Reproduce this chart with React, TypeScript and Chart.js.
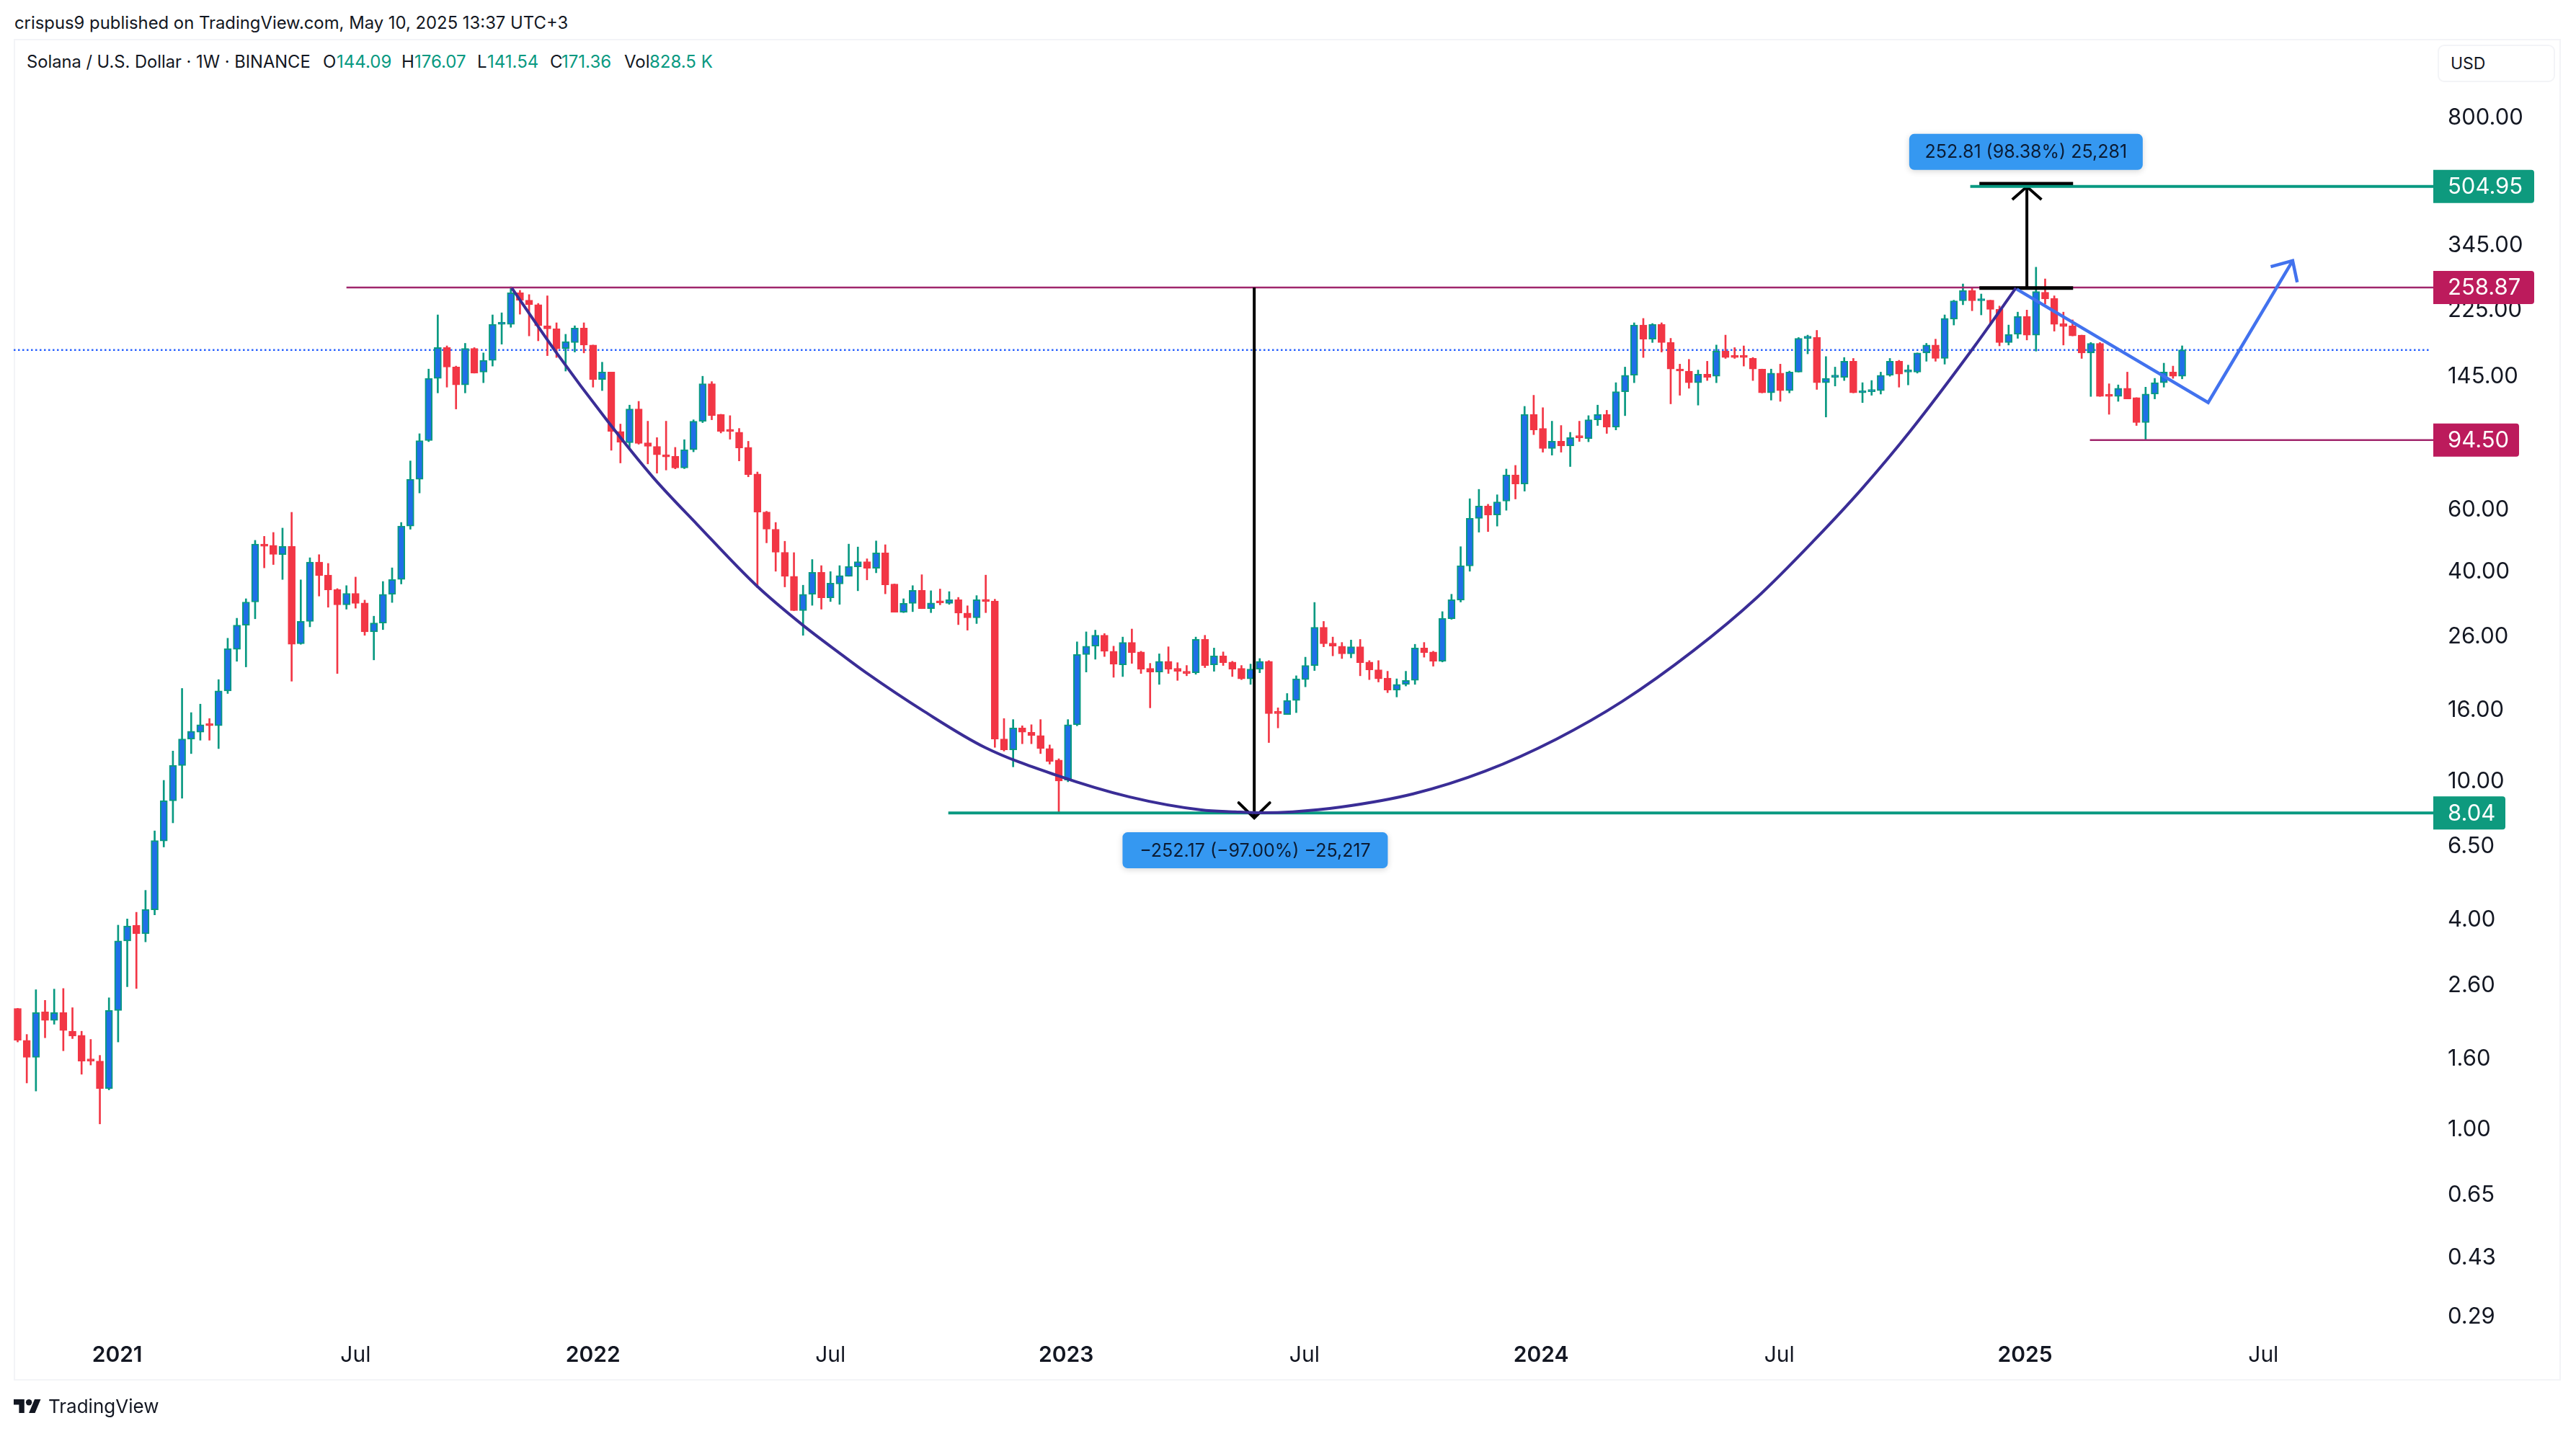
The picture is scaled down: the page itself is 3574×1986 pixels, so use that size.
// Solana weekly chart with the cup drawn over it
import React, { useRef, useEffect } from 'react';
import Chart from 'chart.js/auto';

const opens = [
  2.21,1.79,1.60,2.16,2.04,2.15,1.90,1.85,1.57,1.56,
  1.30,2.18,3.45,3.83,3.62,4.24,6.68,8.71,11.0,13.1,
  13.7,14.4,14.3,18.0,23.7,27.8,32.4,47.5,47.1,44.3,
  46.8,24.6,28.5,42.2,38.7,35.2,31.8,34.3,32.2,26.6,
  28.2,34.1,37.6,53.5,72.9,94.1,142,174,153,136,
  173,148,160,203,203,250,238,231,201,197,
  173,180,198,177,141,148,100,92.8,116,92.8,
  90.6,85.7,84.8,78.6,88.6,107,137,112,101,99.5,
  90,75.5,58.7,52.4,45.0,38.4,30.6,34.1,39.4,33.3,
  36.5,38.4,40.9,42.3,40.5,44.8,36.5,30.3,32.1,35.0,
  31.0,32.4,32.1,32.9,30.1,29.2,32.9,32.6,13.1,12.2,
  14.1,13.7,13.4,12.3,11.4,9.99,14.4,22.9,24.2,26.0,
  23.4,21.4,24.8,23.3,20.9,20.4,21.9,20.9,20.5,20.3,
  25.3,21.4,22.7,21.8,20.9,19.5,20.8,21.9,15.6,15.4,
  16.9,19.4,21.3,27.4,24.7,24.2,23.0,24.1,21.8,20.7,
  19.6,18.1,18.8,19.3,23.9,23.3,21.9,29.0,32.8,41.1,
  56.3,61.1,57.6,63.1,75.0,70.7,112,102,89.3,93.8,
  90.9,96.5,95.4,108,112,103,130,145,202,184,
  203,180,151,149,138,146,144,170,164,164,
  162,151,129,147,131,148,185,186,138,143,
  143,159,129,130,131,145,159,148,148,168,
  177,162,210,237,254,237,238,224,180,190,
  214,189,251,241,204,201,189,168,179,127,
  126,133,125,106,128,138,148,144.09,
];
const highs = [
  2.21,1.86,2.50,2.33,2.51,2.52,2.22,1.90,1.80,1.62,
  2.37,3.83,3.99,4.17,4.82,7.14,9.97,12.1,18.3,15.6,
  16.5,15.0,19.4,25.5,29.1,33.1,48.7,50.0,51.3,52.8,
  58.6,37.5,43.4,44.3,41.8,35.4,36.1,38.2,32.8,29.5,
  37.1,40.6,54.8,82.3,98.5,151,216,176,154,179,
  174,168,216,219,260,254,247,233,245,205,
  190,201,205,177,158,148,105,119,122,107,
  96.0,107,90.0,94.7,108,144,139,112,111,102,
  93.7,76.5,59,54.8,48.4,44.9,36.2,42.9,41.2,39.6,
  41.2,47.5,46.6,43.1,48.5,47.3,36.5,33.1,36.1,38.8,
  34.9,35.3,34.7,33.4,31.6,33.8,38.7,33.0,15.0,14.9,
  14.3,14.4,14.9,12.6,11.5,14.9,24.9,26.6,26.9,26.3,
  24.2,25.7,27.1,23.4,21.6,23.0,24.1,21.7,21.3,25.7,
  26.0,23.9,23.3,21.9,21.3,21.5,22.3,22.0,16.1,17.7,
  19.9,22.5,32.3,28.5,25.7,24.8,25.2,25.3,22.0,22.0,
  20.5,19.5,20.5,24.5,24.8,23.4,30.4,34.1,46.7,64.1,
  68.2,61.8,65.8,78.0,79.9,118,127,117,107,104,
  99.4,107,111,119,115,138,153,205,211,204,
  205,185,156,161,150,159,177,189,174,176,
  163,151,151,156,149,186,189,195,164,153,
  163,162,138,140,148,162,160,155,168,179,
  184,216,238,265,258,248,238,229,202,220,
  223,296,274,245,220,209,189,180,180,137,
  136,148,125,134,142,157,154,176.07,
];
const lows = [
  1.77,1.35,1.28,1.82,1.99,1.67,1.81,1.43,1.52,1.03,
  1.29,1.77,2.55,2.52,3.43,4.10,6.42,7.53,8.86,11.9,
  13.0,13.0,12.3,17.7,21.9,21.1,29.0,40.6,41.5,37.6,
  19.2,24.5,27.5,33.7,31.3,20.2,30.9,31.1,26.0,22.1,
  27.0,32.3,36.5,52.4,66.6,93.5,129,134,116,129,
  147,138,154,178,199,217,188,182,165,163,
  149,169,168,134,131,88.3,81.2,90.0,91.9,80.7,
  75.9,77.5,78.1,78.2,87.4,106,108,99,95,82.3,
  74.1,35.6,47.9,39.7,35.8,30.6,26.0,31.7,30.9,32.5,
  31.9,38.4,34.9,37.5,39.3,34.2,30.3,30.2,30.4,31.0,
  30.2,31.8,31.9,27.9,26.9,28.1,30.2,12.4,12.1,10.9,
  12.7,12.7,11.9,11.1,8.0,9.88,14.3,20.4,22.2,22.6,
  19.7,19.8,21.6,20.2,16.1,18.8,20.2,19.3,19.9,20.1,
  21.0,20.5,21.3,19.8,19.4,18.8,20.3,12.8,14.1,15.4,
  15.6,18.5,20.6,24.1,22.7,22.3,22.4,19.9,19.4,19.1,
  17.8,17.3,18.6,18.8,22.5,21.2,21.8,28.9,32.4,39.7,
  51.4,51.6,53.5,59.4,64.0,67.4,97.9,87.2,85.5,87.2,
  79.3,93.6,93.4,104,98.7,101,111,138,163,180,
  169,120,127,133,119,140,138,162,162,154,
  140,129,123,122,129,148,167,132,110,135,
  140,129,121,127,128,144,134,136,147,159,
  159,156,202,231,222,216,204,176,177,185,
  183,170,232,194,177,188,162,126,126,112,
  122,124,104,95,124,134,142,141.54,
];
const closes = [
  1.79,1.60,2.15,2.04,2.15,1.91,1.84,1.56,1.56,1.30,
  2.18,3.45,3.81,3.62,4.25,6.70,8.71,11.0,13.1,13.8,
  14.4,14.3,18.0,23.8,27.8,32.4,47.5,46.8,44.4,46.8,
  24.5,28.5,42.2,38.6,35.1,31.8,34.3,32.1,26.6,28.2,
  34.1,37.6,53.5,72.9,94.1,142,174,153,136,173,
  147,160,203,204,250,238,231,201,197,173,
  181,198,177,141,148,100,93.2,116,92.4,90.6,
  85.7,84.5,78.6,88.6,107,137,111,100,100,89.7,
  75.2,58.7,52.4,45.0,38.4,30.6,34.1,39.4,33.3,36.7,
  38.6,41.0,42.3,40.5,44.8,36.3,30.3,32.1,35.0,31.0,
  32.2,32.2,32.9,30.1,29.2,32.9,32.5,13.1,12.2,14.1,
  13.7,13.4,12.3,11.3,9.93,14.4,22.9,24.2,26.0,23.4,
  21.5,24.8,23.2,20.8,20.4,21.9,20.8,20.5,20.2,25.3,
  21.3,22.7,21.7,20.8,19.5,20.8,21.9,15.5,15.5,16.9,
  19.5,21.3,27.4,24.6,24.2,23.0,24.1,21.7,20.7,19.5,
  18.1,18.8,19.3,23.9,23.2,21.9,29.1,32.9,41.2,56.3,
  61.1,57.5,62.8,75.0,70.7,112,101,89.3,93.8,90.9,
  96.0,95.9,108,112,103,130,145,202,184,203,
  180,151,149,138,146,143,170,163,163,163,
  151,129,147,131,148,185,186,138,142,144,
  159,129,130,131,145,159,146,149,168,177,
  162,211,237,254,237,238,224,180,190,214,
  189,252,240,203,200,188,168,179,126,126,
  133,124,106,128,138,148,144,171.36,
];

const timeTicks = [10.9, 37, 63, 89, 114.8, 140.9, 166.8, 192.9, 219.8, 245.9];
const timeLabels = ['2021', 'Jul', '2022', 'Jul', '2023', 'Jul', '2024', 'Jul', '2025', 'Jul'];
const priceTicks = [800, 345, 225, 145, 60, 40, 26, 16, 10, 6.5, 4, 2.6, 1.6, 1, 0.65, 0.43, 0.29];

// horizontal levels: price and the week they start from
const levelPrices = [258.87, 504.95, 94.5, 8.04];
const levelStarts = [36, 213.8, 226.9, 101.9];
const levelColors = ['#A0266C', '#089981', '#A0266C', '#089981'];
const levelWidths = [2.5, 4, 2.5, 4];
const tagColors = ['#BC1B5C', '#0E9A7E', '#BC1B5C', '#0E9A7E'];
const tagWidths = [140, 140, 119, 100];

// the cup
const cupX = [54.1, 58.8, 64.6, 69.6, 74.4, 80.9, 85.9, 90.2, 92.8, 99.3, 105.9, 113.8, 121.7, 129.6, 133.3, 136.2, 139.6, 144.9, 152.8, 160.7, 168.5, 175.7, 183.5, 190.4, 196.7, 201.9, 207.2, 214.3, 218.8];
const cupY = [258, 171, 107, 73.7, 54.1, 36.1, 27.9, 22.9, 20.4, 15.7, 12.4, 10.3, 8.94, 8.2, 8.1, 8.05, 8.1, 8.36, 9.12, 10.6, 13.1, 16.8, 23.5, 33.3, 48.7, 68.3, 100, 176, 258];

const pathX = [218.9, 239.85, 249.1];
const pathY = [256, 121, 309];
const pathHeadX = [246.7, 249.1, 249.6];
const pathHeadY = [297, 309, 268];

const dropX = [135.4, 135.4];
const dropY = [258.87, 7.78];
const dropHeadX = [133.7, 135.4, 137.1];
const dropHeadY = [8.6, 7.78, 8.6];
const riseX = [220, 220];
const riseY = [258, 504];
const riseHeadX = [218.4, 220, 221.6];
const riseHeadY = [463, 504, 463];
const capX = [214.8, 225.06];
const capLowY = [258, 258];
const capHighY = [514, 514];

const noteTexts = ['252.81 (98.38%) 25,281', '\u2212252.17 (\u221297.00%) \u221225,217'];
const noteX = [219.9, 135.5];
const noteY = [634, 6.28];
const noteWidths = [324, 368];
const noteHeights = [50, 50];

const xMin = -0.434;
const xMax = 264.5;
const yMin = 0.2587;
const yMax = 1331.6;

const UP = '#089981';
const UP_FILL = '#1F6FE8';
const DOWN = '#F23645';
const FONT = 'Inter, "Liberation Sans", sans-serif';

const pts = (xs: number[], ys: number[]) => xs.map((x, i) => ({ x, y: ys[i] }));

const line = (data: any[], color: string, width: number, order: number, extra: any = {}) => ({
  type: 'line' as const,
  data,
  borderColor: color,
  borderWidth: width,
  pointRadius: 0,
  fill: false,
  tension: 0,
  order,
  ...extra,
});

const overlays = {
  id: 'overlays',
  afterDraw(chart: any) {
    const { ctx, scales } = chart;
    ctx.save();
    levelPrices.forEach((price, i) => {
      const y = scales.y.getPixelForValue(price);
      ctx.fillStyle = tagColors[i];
      ctx.beginPath();
      ctx.roundRect(3376, y - 23, tagWidths[i], 46, [0, 4, 4, 0]);
      ctx.fill();
      ctx.fillStyle = '#FFFFFF';
      ctx.font = `31px ${FONT}`;
      ctx.textAlign = 'left';
      ctx.textBaseline = 'middle';
      ctx.fillText(price.toFixed(2), 3396, y + 1);
    });
    noteTexts.forEach((text, i) => {
      const cx = scales.x.getPixelForValue(noteX[i]);
      const cy = scales.y.getPixelForValue(noteY[i]);
      ctx.save();
      ctx.shadowColor = 'rgba(0,0,0,0.16)';
      ctx.shadowBlur = 8;
      ctx.shadowOffsetY = 2;
      ctx.fillStyle = '#3598F1';
      ctx.beginPath();
      ctx.roundRect(cx - noteWidths[i] / 2, cy - noteHeights[i] / 2, noteWidths[i], noteHeights[i], 7);
      ctx.fill();
      ctx.restore();
      ctx.fillStyle = '#0B1B33';
      ctx.font = `25px ${FONT}`;
      ctx.textAlign = 'center';
      ctx.textBaseline = 'middle';
      ctx.fillText(text, cx, cy + 1);
    });
    ctx.restore();
  },
};

const App: React.FC = () => {
  const canvasRef = useRef<HTMLCanvasElement>(null);

  useEffect(() => {
    if (!canvasRef.current) return;
    const ctx = canvasRef.current.getContext('2d')!;
    const isUp = closes.map((c, i) => c >= opens[i]);

    const chart = new Chart(ctx, {
      type: 'bar',
      data: {
        datasets: [
          line(pts(capX, capHighY), '#000000', 5, 6),
          line(pts(riseX, riseY), '#000000', 4, 5),
          line(pts(riseHeadX, riseHeadY), '#000000', 4, 5),
          ...levelPrices.map((p, i) =>
            line(pts([levelStarts[i], xMax], [p, p]), levelColors[i], levelWidths[i], 4)),
          line(pts(capX, capLowY), '#000000', 5, 3),
          line(pts(dropX, dropY), '#000000', 4, 2),
          line(pts(dropHeadX, dropHeadY), '#000000', 4, 2, { borderCapStyle: 'round' }),
          line(pts(pathX, pathY), '#4272EE', 4.5, 1),
          line(pts(pathHeadX, pathHeadY), '#4272EE', 4.5, 1),
          line(pts(cupX, cupY), '#3A2D96', 4, 1, { cubicInterpolationMode: 'monotone' }),
          {
            // bodies
            data: opens.map((o, i) => ({ x: i, y: [o, closes[i]] })),
            backgroundColor: isUp.map(u => (u ? UP_FILL : DOWN)),
            borderColor: isUp.map(u => (u ? UP : DOWN)),
            borderWidth: 2,
            borderSkipped: false,
            barThickness: 10,
            minBarLength: 3,
            grouped: false,
            order: 10,
          } as any,
          {
            // wicks
            data: lows.map((l, i) => ({ x: i, y: [l, highs[i]] })),
            backgroundColor: isUp.map(u => (u ? UP : DOWN)),
            barThickness: 2,
            grouped: false,
            order: 11,
          } as any,
          line(pts([xMin, 264.2], [closes[closes.length - 1], closes[closes.length - 1]]), '#2962FF', 2.5, 12, { borderDash: [2.5, 3.5] }),
        ],
      },
      plugins: [overlays],
      options: {
        responsive: false,
        devicePixelRatio: 1,
        animation: false,
        events: [],
        layout: { padding: { left: 19, top: 55, right: 21, bottom: 70 } },
        plugins: {
          legend: { display: false },
          tooltip: { enabled: false },
        },
        scales: {
          x: {
            type: 'linear',
            offset: false,
            min: xMin,
            max: xMax,
            grid: { display: false, offset: false },
            border: { display: false },
            afterBuildTicks: (scale: any) => {
              scale.ticks = timeTicks.map(value => ({ value }));
            },
            afterFit: (scale: any) => {
              scale.height = 66;
            },
            ticks: {
              autoSkip: false,
              maxRotation: 0,
              padding: 5,
              color: '#131722',
              callback: (_v: any, i: number) => timeLabels[i],
              font: (c: any) => ({
                family: FONT,
                size: 30,
                weight: timeLabels[c.index] === 'Jul' ? '400' : '600',
              }),
            },
          },
          y: {
            type: 'logarithmic',
            position: 'right',
            beginAtZero: false,
            min: yMin,
            max: yMax,
            grid: { display: false, drawTicks: false },
            border: { display: false },
            afterBuildTicks: (scale: any) => {
              scale.ticks = priceTicks.map(value => ({ value }));
            },
            afterFit: (scale: any) => {
              scale.width = 177;
            },
            ticks: {
              autoSkip: false,
              crossAlign: 'near',
              padding: 20,
              labelOffset: 2,
              color: '#131722',
              callback: (_v: any, i: number) => priceTicks[i].toFixed(2),
              font: { family: FONT, size: 31 },
            },
          },
        },
      } as any,
    } as any);

    return () => chart.destroy();
  }, []);

  const text = (left: number, top: number, size: number, color: string, value: string) => (
    <span
      style={{
        position: 'absolute',
        left,
        top: top - size,
        height: size * 2,
        lineHeight: `${size * 2}px`,
        fontSize: size,
        color,
        whiteSpace: 'nowrap',
      }}
    >
      {value}
    </span>
  );

  return (
    <div
      style={{
        position: 'absolute',
        left: 0,
        top: 0,
        width: 3574,
        height: 1986,
        background: '#FFFFFF',
        fontFamily: FONT,
        overflow: 'hidden',
      }}
    >
      <div
        style={{
          position: 'absolute',
          left: 19,
          top: 54,
          width: 3534,
          height: 1862,
          border: '2px solid #F3F4F7',
          boxSizing: 'border-box',
        }}
      />
      <div
        style={{
          position: 'absolute',
          left: 3382,
          top: 62,
          width: 163,
          height: 52,
          border: '2px solid #F3F4F7',
          borderRadius: 9,
          boxSizing: 'border-box',
        }}
      />
      {text(20, 32, 23.85, '#131722', 'crispus9 published on TradingView.com, May 10, 2025 13:37 UTC+3')}
      {text(37, 86, 23.7, '#131722', 'Solana / U.S. Dollar \u00B7 1W \u00B7 BINANCE')}
      {text(448, 86, 24, '#131722', 'O')}
      {text(467, 86, 24, UP, '144.09')}
      {text(557, 86, 24, '#131722', 'H')}
      {text(575, 86, 24, UP, '176.07')}
      {text(662, 86, 24, '#131722', 'L')}
      {text(676, 86, 24, UP, '141.54')}
      {text(763, 86, 24, '#131722', 'C')}
      {text(779, 86, 24, UP, '171.36')}
      {text(866, 86, 24, '#131722', 'Vol')}
      {text(901, 86, 24, UP, '828.5 K')}
      {text(3400, 88, 23, '#131722', 'USD')}
      <canvas
        ref={canvasRef}
        width={3574}
        height={1986}
        style={{ position: 'absolute', left: 0, top: 0, width: 3574, height: 1986 }}
      />
      <svg
        viewBox="0 4 36 18"
        width={38}
        height={19}
        style={{ position: 'absolute', left: 19, top: 1942 }}
      >
        <path d="M14 22H7V11H0V4h14v18zM28 22h-8l7.5-18h8L28 22z" fill="#131722" />
        <circle cx="20" cy="8" r="4" fill="#131722" />
      </svg>
      {text(67, 1952, 26, '#131722', 'TradingView')}
    </div>
  );
};

export default App;
